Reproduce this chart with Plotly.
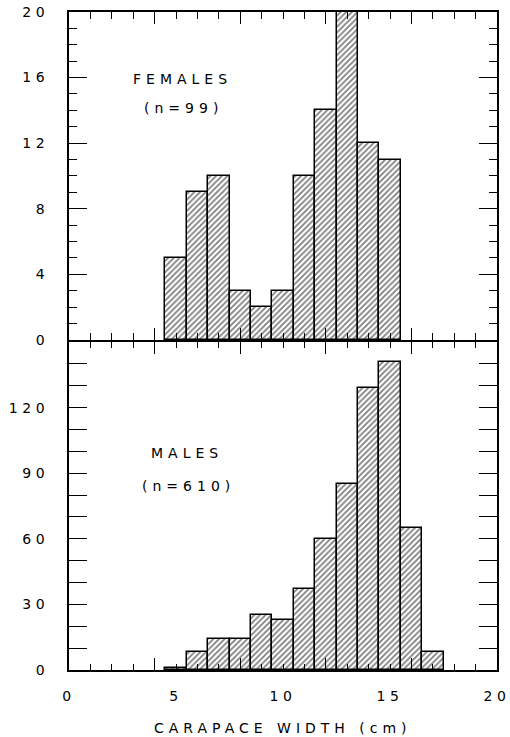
import plotly.graph_objects as go

# ---- data ----
female_width = [5, 6, 7, 8, 9, 10, 11, 12, 13, 14, 15]
female_count = [5, 9, 10, 3, 2, 3, 10, 14, 20, 12, 11]

male_width = [5, 6, 7, 8, 9, 10, 11, 12, 13, 14, 15, 16, 17]
male_count = [1, 8, 14, 14, 25, 23, 37, 60, 85, 129, 141, 65, 8]

x_labels = ["0", "5", "10", "15", "20"]
x_label_vals = [0, 5, 10, 15, 20]
female_ticks = [0, 4, 8, 12, 16, 20]
male_ticks = [0, 30, 60, 90, 120, 150]
male_tick_text = ["0", "30", "60", "90", "120", ""]

FONT = "DejaVu Sans"
W, H = 510, 737
PL, PR, PT, PB = 69, 497, 12, 670  # plot-area edges in window pixels
LW = 2.2


def spaced(t, sp=4):
    return f'<span style="letter-spacing:{sp}px">{t}</span>'


bar_style = dict(
    color="white",
    line=dict(color="black", width=1.5),
    pattern=dict(shape="/", fgcolor="black", bgcolor="white", size=4, solidity=0.45),
)

fig = go.Figure()
fig.add_trace(go.Bar(x=female_width, y=female_count, width=1, marker=bar_style,
                     xaxis="x", yaxis="y", showlegend=False, hoverinfo="x+y"))
fig.add_trace(go.Bar(x=male_width, y=male_count, width=1, marker=bar_style,
                     xaxis="x2", yaxis="y2", showlegend=False, hoverinfo="x+y"))
# carrier for the labelled x axis overlay
fig.add_trace(go.Scatter(x=[], y=[], xaxis="x3", yaxis="y2", showlegend=False))

axis_common = dict(showgrid=False, zeroline=False, showline=True, linecolor="black",
                   linewidth=LW, mirror="allticks", ticks="inside", tickcolor="black",
                   tickwidth=1.3, automargin=False)
tickfont = dict(family=FONT, size=14, color="black")

plot_h = PB - PT
plot_w = PR - PL
g = LW / plot_h / 2  # half-gap so the two panel frame lines coincide

fig.update_layout(
    width=W, height=H,
    margin=dict(l=PL, r=W - PR, t=PT, b=H - PB, autoexpand=False),
    plot_bgcolor="white", paper_bgcolor="white",
    bargap=0,
    font=dict(family=FONT, color="black", size=14),
    xaxis=dict(**axis_common, domain=[0, 1], anchor="y", range=[0, 20],
               tickvals=[0, 4, 8, 12, 16, 20], ticklen=12, showticklabels=False,
               minor=dict(dtick=1, tick0=0, ticklen=7, ticks="inside", tickcolor="black", tickwidth=1.3)),
    yaxis=dict(**axis_common, domain=[0.5 + g, 1], anchor="x", range=[0, 20],
               tickvals=female_ticks, ticktext=[spaced(str(v), 4.5) for v in female_ticks],
               ticklen=18, ticklabelstandoff=15, tickfont=tickfont, ticklabeloverflow="allow",
               minor=dict(dtick=1, tick0=0, ticklen=8, ticks="inside", tickcolor="black", tickwidth=1.3)),
    xaxis2=dict(**axis_common, domain=[0, 1], anchor="y2", range=[0, 20],
                tickvals=[0, 4, 8, 12, 16, 20], ticklen=12, showticklabels=False,
                minor=dict(dtick=1, tick0=0, ticklen=6, ticks="inside", tickcolor="black", tickwidth=1.3)),
    yaxis2=dict(**axis_common, domain=[0, 0.5 - g], anchor="x2", range=[0, 150],
                tickvals=male_ticks, ticktext=[spaced(t, 4.5) for t in male_tick_text],
                ticklen=18, ticklabelstandoff=15, tickfont=tickfont, ticklabeloverflow="allow",
                minor=dict(dtick=10, tick0=0, ticklen=8, ticks="inside", tickcolor="black", tickwidth=1.3)),
    xaxis3=dict(overlaying="x2", anchor="y2", side="bottom", range=[0, 20],
                showgrid=False, zeroline=False, showline=False, ticks="",
                tickvals=x_label_vals, ticktext=[spaced(t, 4.5) for t in x_labels],
                tickangle=0, automargin=False, ticklabelstandoff=16, tickfont=tickfont,
                ticklabeloverflow="allow"),
)

annos = [
    (182, 79, "FEMALES"),
    (183, 108, "(n=99)"),
    (187, 453, "MALES"),
    (188, 486, "(n=610)"),
    (283, 728, "CARAPACE WIDTH (cm)"),
]
for xpix, ypix, txt in annos:
    fig.add_annotation(xref="paper", yref="paper",
                       x=(xpix - PL) / plot_w, y=(PB - ypix) / plot_h,
                       text=spaced(txt, 5), showarrow=False, font=dict(size=14, family=FONT),
                       xanchor="center", yanchor="middle")

fig.write_html("out.html", config={"displayModeBar": False},
               post_script="document.body.style.margin='0px';document.body.style.overflow='hidden';")
